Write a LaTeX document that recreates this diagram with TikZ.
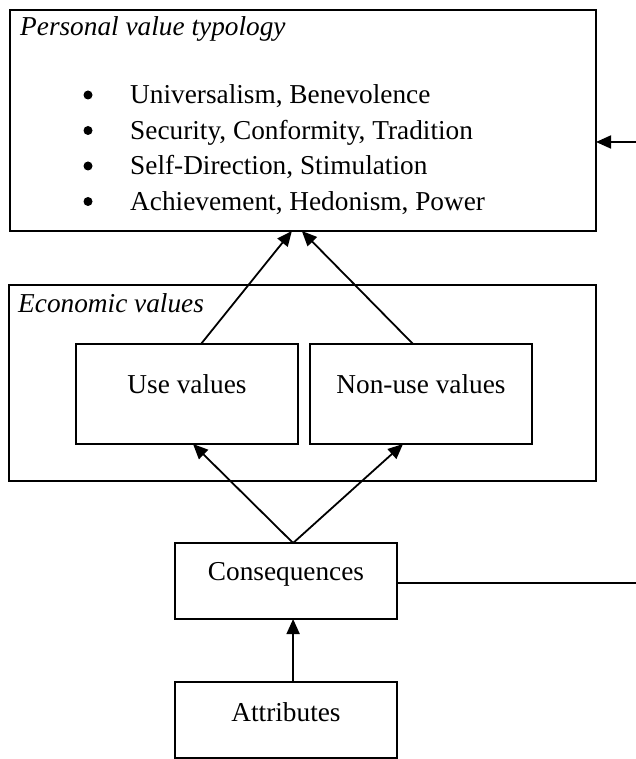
\documentclass[tikz,border=0pt]{standalone}
\usepackage{fontspec}
\setmainfont{Liberation Serif}
\usetikzlibrary{arrows.meta,calc}
\begin{document}
\begin{tikzpicture}[x=1pt,y=-1pt,
  box/.style={draw,line width=2.8pt,inner sep=0pt,outer sep=0pt,anchor=north west},
  conn/.style={line width=1.8pt,-{Triangle[length=15pt,width=13pt]}},
  line/.style={line width=1.8pt},
  dot/.style={circle,fill,inner sep=0pt,minimum size=9pt},
  lbl/.style={inner sep=0pt,anchor=base,font=\fontsize{27.3}{32}\selectfont},
  lblw/.style={inner sep=0pt,anchor=base west,font=\fontsize{27.3}{32}\selectfont},
  ttl/.style={inner sep=0pt,anchor=base west,font=\fontsize{27.3}{32}\selectfont\itshape},
]
\useasboundingbox (0,0) rectangle (635,759);
% boxes
\node[box,minimum width=586pt,minimum height=221pt] (top) at (10,10) {};
\node[box,minimum width=587pt,minimum height=196pt] (econ) at (9,285) {};
\node[box,minimum width=222pt,minimum height=100pt] (use) at (76,344) {};
\node[box,minimum width=222pt,minimum height=100pt] (nonuse) at (310,344) {};
\node[box,minimum width=222pt,minimum height=76pt] (cons) at (175,543) {};
\node[box,minimum width=222pt,minimum height=76pt] (attr) at (175,682) {};
% titles
\node[ttl] (ttop) at (20,36) {Personal value typology};
\node[ttl] (tecon) at (18,312) {Economic values};
% bullet list
\node[dot] (b1) at (88,95) {};
\node[dot] (b2) at (88,130.5) {};
\node[dot] (b3) at (88,166) {};
\node[dot] (b4) at (88,201.5) {};
\node[lblw] (i1) at (130,104) {Universalism, Benevolence};
\node[lblw] (i2) at (130,139.5) {Security, Conformity, Tradition};
\node[lblw] (i3) at (130,175) {Self-Direction, Stimulation};
\node[lblw] (i4) at (130,210.5) {Achievement, Hedonism, Power};
% labels
\node[lbl] (luse) at (187,393) {Use values};
\node[lbl] (lnon) at (421,393) {Non-use values};
\node[lbl] (lcons) at (286,580) {Consequences};
\node[lbl] (lattr) at (286,721) {Attributes};
% connectors
\draw[conn] ($(use.north west)!0.563!(use.north east)$) -- ($(top.south west)!0.481!(top.south east)$);
\draw[conn] ($(nonuse.north west)!0.464!(nonuse.north east)$) -- ($(top.south west)!0.498!(top.south east)$);
\draw[conn] ($(cons.north west)!0.532!(cons.north east)$) -- ($(use.south west)!0.527!(use.south east)$);
\draw[conn] ($(cons.north west)!0.532!(cons.north east)$) -- ($(nonuse.south west)!0.419!(nonuse.south east)$);
\draw[conn] ($(attr.north west)!0.532!(attr.north east)$) -- ($(cons.south west)!0.532!(cons.south east)$);
\coordinate (rc) at (640,583);
\draw[line] (cons.east |- rc) -- (rc);
\coordinate (ra) at (640,142);
\draw[conn] (ra) -- (ra -| top.east);
\end{tikzpicture}
\end{document}
